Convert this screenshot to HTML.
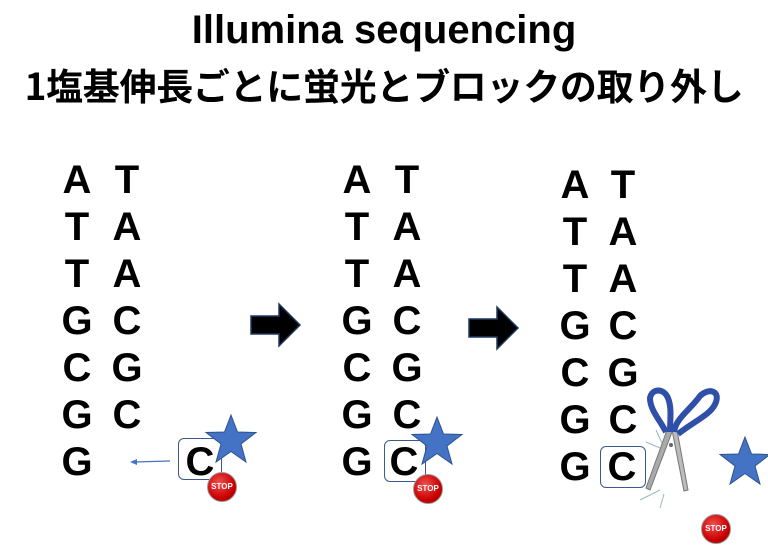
<!DOCTYPE html>
<html><head><meta charset="utf-8"><style>
body{margin:0;width:768px;height:546px;background:#fff;position:relative;overflow:hidden;font-family:"Liberation Sans","Noto Sans CJK JP",sans-serif}
.t{position:absolute;left:0;width:768px;text-align:center;white-space:nowrap;color:#000}
.L{position:absolute;font-weight:bold;font-size:40px;line-height:40px;color:#000;width:34px;text-align:center}
.box{position:absolute;border:1.5px solid #3a5a8c;border-radius:6px}
.stop{position:absolute;width:28px;height:28px;border-radius:50%;background:radial-gradient(circle at 40% 35%,#f05050,#c00 60%,#800);border:1.5px solid #999;color:#fff;font:bold 8px "Liberation Sans",sans-serif;text-align:center;line-height:28px}
svg{position:absolute;left:0;top:0}
</style></head><body>
<div class="t" style="top:8px;font-size:40px;font-weight:bold;font-family:'Liberation Sans','Noto Sans CJK JP',sans-serif">Illumina sequencing</div>
<div class="t" style="top:57px;font-size:37px;font-weight:bold;font-family:'Noto Sans CJK JP',sans-serif;letter-spacing:-0.3px">1塩基伸長ごとに蛍光とブロックの取り外し</div>

<div id="c"></div>
<script>
const cols=[[60,110,160],[340,390,160],[558,606,165]];
const L="ATTGCGG",R="TAACGC";
let h="";
cols.forEach(([a,b,y0])=>{for(let i=0;i<7;i++){let y=y0+i*47;h+=`<div class="L" style="left:${a}px;top:${y}px">${L[i]}</div>`;if(i<6)h+=`<div class="L" style="left:${b}px;top:${y}px">${R[i]}</div>`;}});
h+=`<div class="L" style="left:183px;top:442px">C</div><div class="L" style="left:387px;top:442px">C</div><div class="L" style="left:605px;top:447px">C</div>`;
document.getElementById('c').innerHTML=h;
</script>
<div class="box" style="left:178px;top:438px;width:42px;height:40px"></div>
<div class="box" style="left:384px;top:440px;width:40px;height:40px"></div>
<div class="box" style="left:600px;top:446px;width:44px;height:40px"></div>
<svg width="768" height="546">
<defs><polygon id="st" points="0,-25 6.5,-8 25,-7.5 10,4 15,22 0,11.5 -15,22 -10,4 -25,-7.5 -6.5,-8" fill="#4472c4" stroke="#2f528f" stroke-width="1"/></defs>
<use href="#st" x="231" y="440"/>
<use href="#st" x="437" y="442"/>
<use href="#st" x="745" y="462"/>
<line x1="170" y1="461" x2="134" y2="462" stroke="#4472c4" stroke-width="1.2"/>
<polygon points="130,462 137,459 137,465" fill="#4472c4"/>
<polygon points="251,316 279,316 279,304 300,325 279,346 279,334 251,334" fill="#000" stroke="#1f3864" stroke-width="1.5"/>
<polygon points="469,319 497,319 497,307 518,328 497,349 497,337 469,337" fill="#000" stroke="#1f3864" stroke-width="1.5"/>
<g>
<polygon points="667,430 672,432 650,490 646,488" fill="#aaa" stroke="#777"/>
<polygon points="672,430 677,430 688,490 684,491" fill="#bbb" stroke="#777"/>
<path d="M666,432 C660,420 650,410 650,398 C652,388 664,388 668,398 C672,408 670,420 670,432" fill="none" stroke="#2f4fa8" stroke-width="6"/>
<path d="M674,432 C676,418 690,410 700,396 C708,388 720,390 716,402 C712,414 696,420 678,434" fill="none" stroke="#2f4fa8" stroke-width="6"/>
<circle cx="671" cy="445" r="2" fill="#666"/>
<line x1="656" y1="430" x2="662" y2="443" stroke="#9bb" stroke-width="1"/>
<line x1="646" y1="442" x2="660" y2="448" stroke="#9bb" stroke-width="1"/>
<line x1="640" y1="500" x2="660" y2="490" stroke="#9bb" stroke-width="1"/>
<line x1="660" y1="508" x2="664" y2="494" stroke="#9bb" stroke-width="1"/>
</g>
</svg>
<div class="stop" style="left:207px;top:472px">STOP</div>
<div class="stop" style="left:413px;top:474px">STOP</div>
<div class="stop" style="left:701px;top:514px">STOP</div>
</body></html>
